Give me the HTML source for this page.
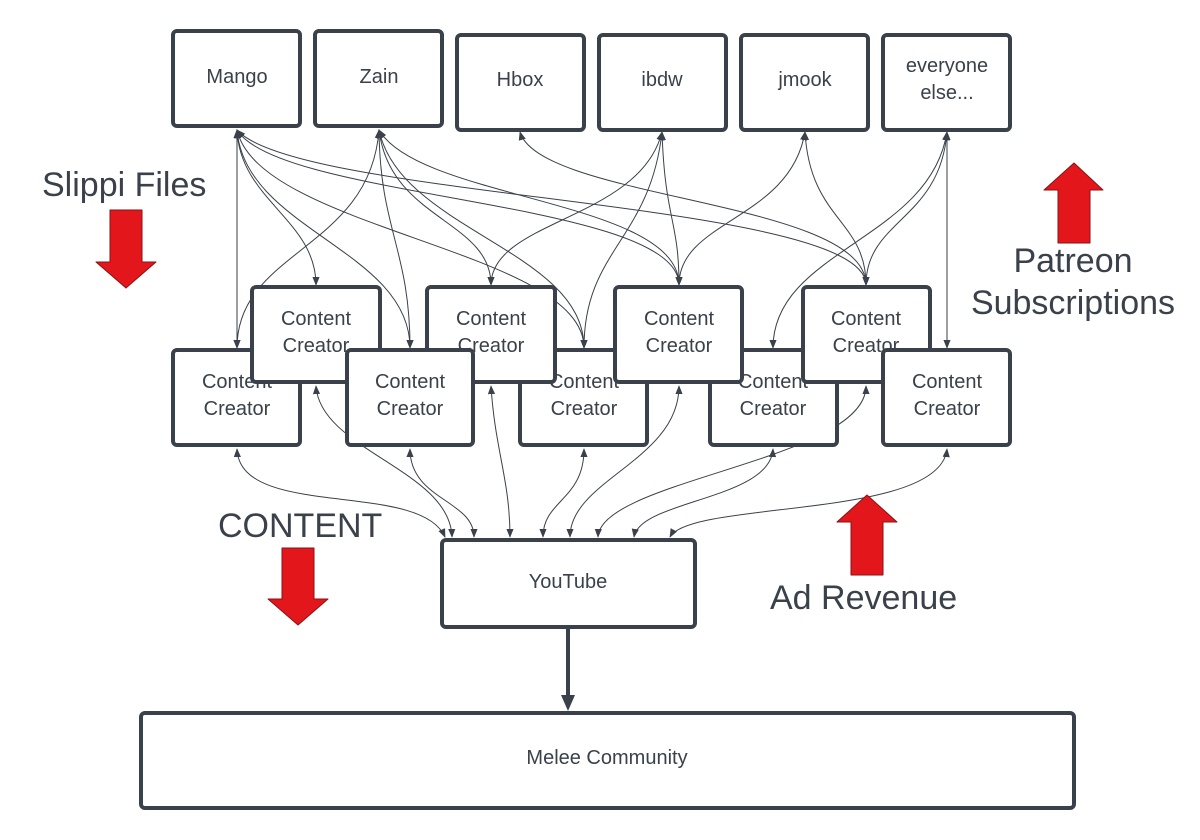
<!DOCTYPE html>
<html><head><meta charset="utf-8"><style>
html,body{margin:0;padding:0;background:#fff;}
svg{display:block;}
text{font-family:"Liberation Sans",sans-serif;fill:#3a414a;}
</style></head><body>
<svg width="1200" height="840" viewBox="0 0 1200 840" xmlns="http://www.w3.org/2000/svg">
<defs>
<marker id="a" viewBox="0 0 10 10" refX="9" refY="5" markerWidth="9" markerHeight="9" markerUnits="userSpaceOnUse" orient="auto-start-reverse">
<path d="M0,1 L10,5 L0,9 z" fill="#3a414a"/></marker>
</defs>
<g fill="none" stroke="#3a414a" stroke-width="1" marker-start="url(#a)" marker-end="url(#a)">
<path d="M237,130 L237,348"/>
<path d="M237,130 C240,200 316,220 316,285"/>
<path d="M237,130 C245,230 410,250 410,348"/>
<path d="M237,130 C260,230 584,250 584,348"/>
<path d="M237,130 C280,200 679,200 679,285"/>
<path d="M237,130 C300,200 866,200 866,285"/>
<path d="M379,130 C370,250 237,250 237,348"/>
<path d="M379,130 C380,230 410,250 410,348"/>
<path d="M379,130 C390,220 491,220 491,285"/>
<path d="M379,130 C400,230 584,250 584,348"/>
<path d="M379,130 C420,200 679,200 679,285"/>
<path d="M520,132 C540,200 866,200 866,285"/>
<path d="M662,132 C640,220 491,220 491,285"/>
<path d="M662,132 C650,240 584,250 584,348"/>
<path d="M662,132 C665,220 679,220 679,285"/>
<path d="M805,132 C790,220 679,220 679,285"/>
<path d="M805,132 C810,220 866,220 866,285"/>
<path d="M947,132 C930,240 773,250 773,348"/>
<path d="M947,132 C940,220 866,220 866,285"/>
<path d="M947,132 L947,348"/>
<path d="M237,449 C240,520 420,480 445,537"/>
<path d="M316,386 C320,450 450,470 452,537"/>
<path d="M410,449 C410,500 474,500 474,537"/>
<path d="M491,386 C495,450 510,480 510,537"/>
<path d="M584,449 C584,500 543,500 543,537"/>
<path d="M679,386 C679,460 570,480 570,537"/>
<path d="M866,386 C866,460 600,480 598,537"/>
<path d="M773,449 C770,500 640,500 634,537"/>
<path d="M947,449 C940,520 690,500 670,537"/>
</g>
<g fill="#fff" stroke="#3a414a" stroke-width="4">
<rect x="173" y="31" width="127" height="95" rx="4"/>
<rect x="315" y="31" width="127" height="95" rx="4"/>
<rect x="457" y="35" width="127" height="95" rx="4"/>
<rect x="599" y="35" width="127" height="95" rx="4"/>
<rect x="741" y="35" width="127" height="95" rx="4"/>
<rect x="883" y="35" width="127" height="95" rx="4"/>
</g>
<g font-size="20" text-anchor="middle">
<text x="237" y="83">Mango</text>
<text x="379" y="83">Zain</text>
<text x="520" y="86">Hbox</text>
<text x="662" y="86">ibdw</text>
<text x="805" y="86">jmook</text>
<text x="947" y="72">everyone</text>
<text x="947" y="99">else...</text>
</g>
<g font-size="20" text-anchor="middle">
<rect x="173" y="350" width="127" height="95" rx="4" fill="#fff" stroke="#3a414a" stroke-width="4"/>
<text x="237" y="388">Content</text><text x="237" y="415">Creator</text>
<rect x="252" y="287" width="128" height="95" rx="4" fill="#fff" stroke="#3a414a" stroke-width="4"/>
<text x="316" y="325">Content</text><text x="316" y="352">Creator</text>
<rect x="520" y="350" width="127" height="95" rx="4" fill="#fff" stroke="#3a414a" stroke-width="4"/>
<text x="584" y="388">Content</text><text x="584" y="415">Creator</text>
<rect x="427" y="287" width="128" height="95" rx="4" fill="#fff" stroke="#3a414a" stroke-width="4"/>
<text x="491" y="325">Content</text><text x="491" y="352">Creator</text>
<rect x="347" y="350" width="126" height="95" rx="4" fill="#fff" stroke="#3a414a" stroke-width="4"/>
<text x="410" y="388">Content</text><text x="410" y="415">Creator</text>
<rect x="710" y="350" width="127" height="95" rx="4" fill="#fff" stroke="#3a414a" stroke-width="4"/>
<text x="773" y="388">Content</text><text x="773" y="415">Creator</text>
<rect x="615" y="287" width="127" height="95" rx="4" fill="#fff" stroke="#3a414a" stroke-width="4"/>
<text x="679" y="325">Content</text><text x="679" y="352">Creator</text>
<rect x="803" y="287" width="127" height="95" rx="4" fill="#fff" stroke="#3a414a" stroke-width="4"/>
<text x="866" y="325">Content</text><text x="866" y="352">Creator</text>
<rect x="883" y="350" width="127" height="95" rx="4" fill="#fff" stroke="#3a414a" stroke-width="4"/>
<text x="947" y="388">Content</text><text x="947" y="415">Creator</text>
</g>
<rect x="442" y="540" width="253" height="87" rx="4" fill="#fff" stroke="#3a414a" stroke-width="4"/>
<text x="568" y="588" font-size="20" text-anchor="middle">YouTube</text>
<line x1="568" y1="629" x2="568" y2="698" stroke="#3a414a" stroke-width="4"/>
<path d="M561,695 L575,695 L568,711 z" fill="#3a414a"/>
<rect x="141" y="713" width="933" height="95" rx="4" fill="#fff" stroke="#3a414a" stroke-width="4"/>
<text x="607" y="764" font-size="20" text-anchor="middle">Melee Community</text>
<g fill="#e3161b" stroke="#8a1214" stroke-width="1" stroke-linejoin="round">
<path d="M110,210 L142,210 L142,262 L156,262 L126,288 L96,262 L110,262 z"/>
<path d="M282,548 L314,548 L314,599 L328,599 L298,625 L268,599 L282,599 z"/>
<path d="M1058,243 L1090,243 L1090,190 L1103,190 L1074,163 L1044,190 L1058,190 z"/>
<path d="M851,575 L883,575 L883,522 L897,522 L867,495 L837,522 L851,522 z"/>
</g>
<g font-size="34">
<text x="42" y="196">Slippi Files</text>
<text x="218" y="537">CONTENT</text>
<text x="1073" y="272" text-anchor="middle">Patreon</text>
<text x="1073" y="314" text-anchor="middle">Subscriptions</text>
<text x="770" y="609">Ad Revenue</text>
</g>
</svg>
</body></html>
